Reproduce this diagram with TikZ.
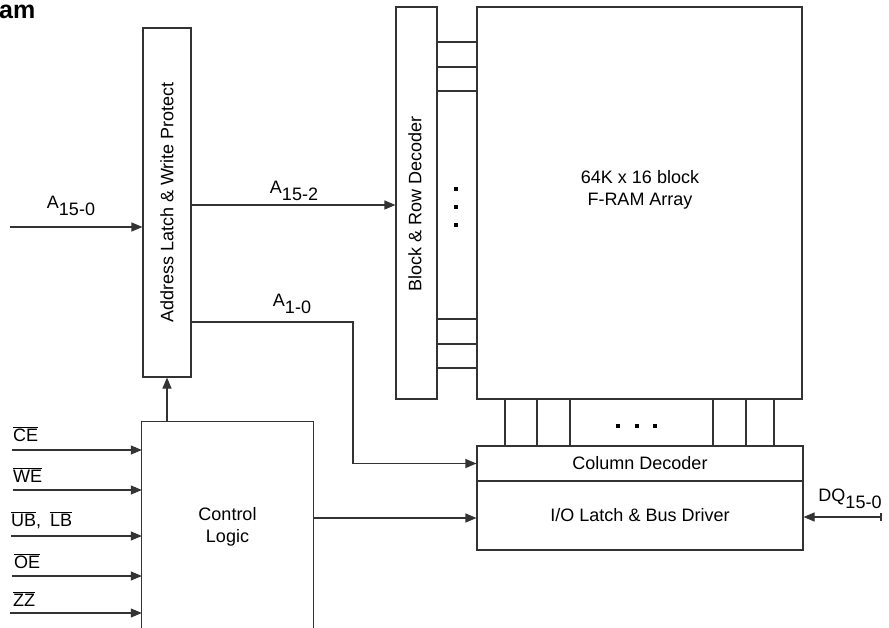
\documentclass[tikz,border=0pt]{standalone}
\usepackage{fontspec}
\setmainfont{Liberation Sans}
\usetikzlibrary{arrows.meta,calc}
\tikzset{
  ln/.style={draw=black!80, line width=1.1pt},
  box/.style={ln, rectangle, inner sep=0pt},
  arr/.style={ln, -{Triangle[length=11pt,width=9pt]}},
  dotsq/.style={fill=black, minimum size=4.5pt, inner sep=0pt, draw=none, rectangle},
  lbl/.style={inner sep=0pt, font=\fontsize{18}{21}\selectfont},
  txt/.style={font=\fontsize{18}{22}\selectfont, align=center},
}
\newcommand{\sbx}[1]{\raisebox{-7pt}{#1}}
\newcommand{\ovl}[1]{$\overline{\mbox{#1}}$}
\begin{document}
\begin{tikzpicture}[x=1pt,y=-1pt]
\useasboundingbox (0,0) rectangle (889,627);
% title fragment
\node[anchor=base west, inner sep=0pt, font=\fontsize{25}{28}\selectfont\bfseries] (ttl) at (-1,18) {am};
% blocks
\node[box, minimum width=48pt, minimum height=349pt] (latch) at (167,202.5) {};
\node[txt, rotate=90] (latchT) at (latch.center) {Address Latch \& Write Protect};
\node[box, minimum width=41pt, minimum height=392pt] (dec) at (416.5,203) {};
\node[txt, rotate=90] (decT) at (415,204) {Block \& Row Decoder};
\node[box, minimum width=325pt, minimum height=392pt] (arr) at (639.5,203) {};
\node[txt] (arrT) at (640,190) {64K x 16 block\\F-RAM Array};
\node[box, minimum width=326pt, minimum height=35pt, font=\fontsize{18}{22}\selectfont] (coldec) at (640,463.5) {Column Decoder};
\node[box, minimum width=326pt, minimum height=69pt, font=\fontsize{18}{22}\selectfont] (io) at (640,515.5) {I/O Latch \& Bus Driver};
\node[minimum width=171pt, minimum height=210pt, inner sep=0pt, txt] (ctrl) at (227.5,527) {Control\\Logic};
\draw[ln] (ctrl.south west) -- (ctrl.north west) -- (ctrl.north east) -- (ctrl.south east);
% row lines
\foreach \yy in {42,67,91,319,344,368} \draw[ln] (dec.east |- 0,\yy) -- (arr.west |- 0,\yy);
% column lines
\foreach \xx in {505,537,570,713,746,774} \draw[ln] (\xx,0 |- arr.south) -- (\xx,0 |- coldec.north);
% dots
\foreach \yy [count=\i] in {189,207,225} \node[dotsq] (vd\i) at (456,\yy) {};
\foreach \xx [count=\i] in {618,637,655} \node[dotsq] (hd\i) at (\xx,426) {};
% address
\coordinate (ain) at (10,227);
\draw[arr] (ain) -- (latch.west |- ain);
\node[lbl] (la) at (71,206) {A\sbx{15-0}};
\draw[arr] (latch.east |- 0,205) -- (dec.west |- 0,205);
\node[lbl] (lb) at (294,191) {A\sbx{15-2}};
\draw[arr] (latch.east |- 0,322) -- (353,322) |- (coldec.west);
\node[lbl] (lc) at (292,304) {A\sbx{1-0}};
% control
\draw[arr] (latch.south |- ctrl.north) -- (latch.south);
\draw[arr] (ctrl.east |- 0,518) -- (io.west |- 0,518);
% control inputs
\coordinate (ce) at (12,450);
\coordinate (we) at (13,490);
\coordinate (ub) at (11,536);
\coordinate (oe) at (12,576);
\coordinate (zz) at (10,613);
\foreach \c in {ce,we,ub,oe,zz} \draw[arr] (\c) -- (ctrl.west |- \c);
\node[lbl, anchor=west] (lce) at (13,434) {\ovl{CE}};
\node[lbl, anchor=west] (lwe) at (13,475) {\ovl{WE}};
\node[lbl, anchor=west] (lub) at (11,520) {\ovl{UB},\hspace{9pt}\ovl{LB}};
\node[lbl, anchor=west] (loe) at (14,561) {\ovl{OE}};
\node[lbl, anchor=west] (lzz) at (13,599) {\ovl{ZZ}};
% DQ
\coordinate (dq) at (881,517);
\draw[arr] (dq) -- (io.east |- dq);
\draw[ln] ($(dq)+(0,-4)$) -- ($(dq)+(0,4)$);
\node[lbl] (ldq) at (850,499) {DQ\sbx{15-0}};
\end{tikzpicture}
\end{document}
